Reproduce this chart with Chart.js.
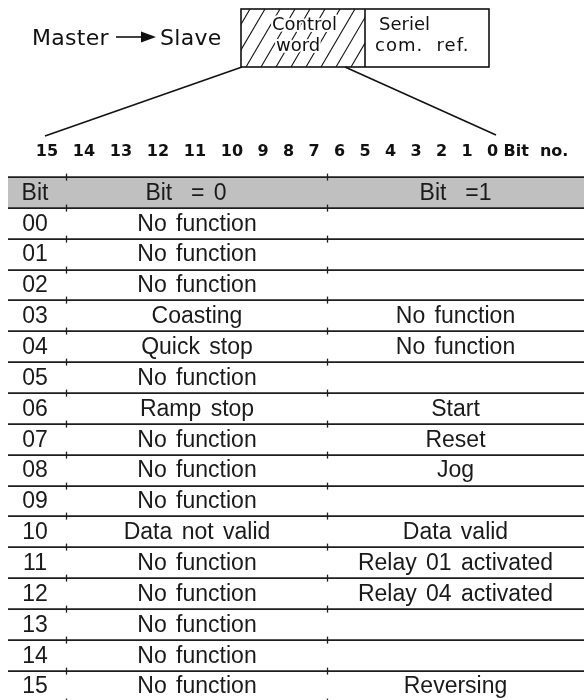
<!DOCTYPE html>
<html><head><meta charset="utf-8">
<script src="https://cdn.jsdelivr.net/npm/chart.js@4"></script>
<style>html,body{margin:0;padding:0;background:#fff}#wrap{width:584px;height:700px;position:relative}canvas{display:block}</style>
</head><body><div id="wrap"><canvas id="c" width="584" height="700"></canvas></div>
<script>
// ---- data ----
const headers = ['Bit', 'Bit  = 0', 'Bit  =1'];
const bitLabels = ['00','01','02','03','04','05','06','07','08','09','10','11','12','13','14','15'];
const bitIs0 = ['No function','No function','No function','Coasting','Quick stop','No function','Ramp stop','No function','No function','No function','Data not valid','No function','No function','No function','No function','No function'];
const bitIs1 = ['','','','No function','No function','','Start','Reset','Jog','','Data valid','Relay 01 activated','Relay 04 activated','','','Reversing'];
const bitNumbers = ['15','14','13','12','11','10','9','8','7','6','5','4','3','2','1','0'];
const bitNoLabel = 'Bit  no.';
const diagramTexts = {master: 'Master', slave: 'Slave', ctrl1: 'Control', ctrl2: 'word', ser1: 'Seriel', ser2: 'com.  ref.'};

// ---- layout (table units on the x scale) ----
const colCenters = [27, 189, 447.5];
const headerCenters = [27, 178, 447.5];
const colBounds = [58, 319];

function colData(c, values) {
  return values.map((v, i) => ({x: colCenters[c], y: i + 0.5, t: v}));
}
const headerData = headers.map((h, c) => ({x: headerCenters[c], y: -0.5, t: h}));

const tablePlugin = {
  id: 'tablePlugin',
  beforeDatasetsDraw(chart) {
    const ctx = chart.ctx, xs = chart.scales.x, ys = chart.scales.y;
    const left = xs.getPixelForValue(0), right = xs.getPixelForValue(576);
    ctx.save();
    ctx.fillStyle = '#c0c0c0';
    const hy0 = ys.getPixelForValue(-1), hy1 = ys.getPixelForValue(0);
    ctx.fillRect(left, hy0, right - left, hy1 - hy0);
    ctx.strokeStyle = '#1e1e1e';
    for (let i = -1; i <= bitLabels.length; i++) {
      const y = Math.round(ys.getPixelForValue(i)) + 0.1;
      ctx.lineWidth = 1.8;
      ctx.beginPath(); ctx.moveTo(left, y); ctx.lineTo(right, y); ctx.stroke();
      ctx.lineWidth = 1.3;
      colBounds.forEach(b => {
        const x = Math.round(xs.getPixelForValue(b)) + 0.5;
        ctx.beginPath(); ctx.moveTo(x, y - 3.5); ctx.lineTo(x, y + 3.5); ctx.stroke();
      });
    }
    ctx.restore();
  },
  afterDatasetsDraw(chart) {
    const ctx = chart.ctx;
    ctx.save();
    ctx.fillStyle = '#1a1a1a';
    ctx.font = '23px "Liberation Sans", Arial, sans-serif';
    ctx.textAlign = 'center';
    ctx.textBaseline = 'middle';
    if ('wordSpacing' in ctx) ctx.wordSpacing = '3px';
    chart.data.datasets.forEach((ds, di) => {
      const meta = chart.getDatasetMeta(di);
      meta.data.forEach((el, i) => {
        const t = ds.data[i].t;
        if (t) ctx.fillText(t, el.x, el.y + 1);
      });
    });
    ctx.restore();
    drawDiagram(chart);
  }
};

function drawDiagram(chart) {
  const ctx = chart.ctx;
  ctx.save();
  ctx.fillStyle = '#111';
  ctx.strokeStyle = '#111';
  ctx.font = '22px "DejaVu Sans", sans-serif';
  ctx.textBaseline = 'alphabetic';
  ctx.textAlign = 'left';
  if ('letterSpacing' in ctx) ctx.letterSpacing = '0.3px';
  ctx.fillText(diagramTexts.master, 32, 45);
  ctx.fillText(diagramTexts.slave, 160, 45);
  ctx.lineWidth = 1.6;
  ctx.beginPath(); ctx.moveTo(116, 37); ctx.lineTo(142, 37); ctx.stroke();
  ctx.beginPath(); ctx.moveTo(141, 31.5); ctx.lineTo(156, 37); ctx.lineTo(141, 42.5); ctx.closePath(); ctx.fill();
  const bx0 = 241, bx1 = 365, bx2 = 489, by0 = 9, by1 = 67;
  ctx.save();
  ctx.beginPath(); ctx.rect(bx0, by0, bx1 - bx0, by1 - by0); ctx.clip();
  ctx.lineWidth = 1.1;
  for (let x = bx0 - 40; x < bx1 + 10; x += 15) {
    ctx.beginPath(); ctx.moveTo(x, by1); ctx.lineTo(x + 34, by0); ctx.stroke();
  }
  ctx.restore();
  ctx.lineWidth = 1.6;
  ctx.strokeRect(bx0, by0, bx2 - bx0, by1 - by0);
  ctx.beginPath(); ctx.moveTo(bx1, by0); ctx.lineTo(bx1, by1); ctx.stroke();
  ctx.font = '18px "DejaVu Sans", sans-serif';
  if ('letterSpacing' in ctx) ctx.letterSpacing = '0px';
  ctx.lineJoin = 'round';
  ctx.strokeStyle = '#fff'; ctx.lineWidth = 4;
  ctx.strokeText(diagramTexts.ctrl1, 272, 30); ctx.strokeText(diagramTexts.ctrl2, 276, 51);
  ctx.fillText(diagramTexts.ctrl1, 272, 30); ctx.fillText(diagramTexts.ctrl2, 276, 51);
  ctx.fillText(diagramTexts.ser1, 379, 30);
  if ('letterSpacing' in ctx) ctx.letterSpacing = '1px';
  ctx.fillText(diagramTexts.ser2, 375, 51);
  ctx.strokeStyle = '#111'; ctx.lineWidth = 1.5;
  ctx.beginPath(); ctx.moveTo(242, 67); ctx.lineTo(45, 136); ctx.stroke();
  ctx.beginPath(); ctx.moveTo(345, 67); ctx.lineTo(496, 135); ctx.stroke();
  // bit number row
  ctx.font = 'bold 16px "DejaVu Sans", sans-serif';
  if ('letterSpacing' in ctx) ctx.letterSpacing = '0px';
  ctx.textAlign = 'center';
  ctx.textBaseline = 'middle';
  let x = 47;
  bitNumbers.forEach((n, i) => {
    ctx.fillText(n, x, 152);
    const next = bitNumbers[i + 1];
    if (next !== undefined) x += next.length > 1 ? 37 : (n.length > 1 ? 31 : 25.5);
  });
  ctx.textAlign = 'left';
  ctx.fillText(bitNoLabel, x + 11, 152);
  ctx.restore();
}

const chart = new Chart(document.getElementById('c'), {
  type: 'scatter',
  data: {
    datasets: [
      {data: headerData, pointRadius: 0},
      {data: colData(0, bitLabels), pointRadius: 0},
      {data: colData(1, bitIs0), pointRadius: 0},
      {data: colData(2, bitIs1), pointRadius: 0}
    ]
  },
  options: {
    responsive: false,
    animation: false,
    devicePixelRatio: 1,
    layout: {padding: {top: 177, left: 8, right: 0, bottom: 0}},
    plugins: {legend: {display: false}, tooltip: {enabled: false}},
    scales: {
      x: {type: 'linear', min: 0, max: 576, display: false},
      y: {type: 'linear', min: -1, max: 15.95, reverse: true, display: false}
    }
  },
  plugins: [tablePlugin]
});
</script></body></html>
